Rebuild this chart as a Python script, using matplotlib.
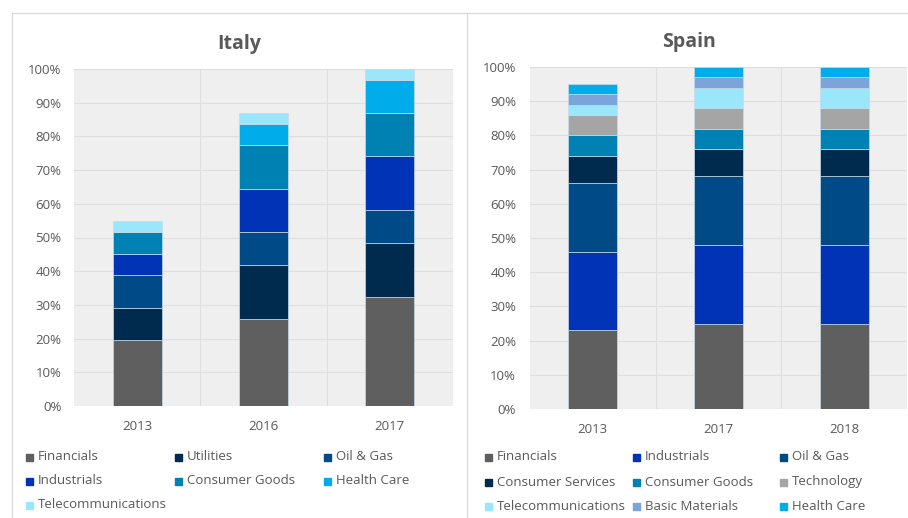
import matplotlib.pyplot as plt
from matplotlib.patches import Rectangle
from matplotlib.lines import Line2D
import numpy as np

plt.rcParams['font.family'] = ['Open Sans', 'DejaVu Sans']

# ---- data (% of total) ----
italy_years = ['2013', '2016', '2017']
italy_sectors = ['Financials', 'Utilities', 'Oil & Gas', 'Industrials',
                 'Consumer Goods', 'Health Care', 'Telecommunications']
italy_values = [
    [19.5, 25.9, 32.4],   # Financials
    [9.7, 16.0, 15.9],    # Utilities
    [9.6, 9.8, 9.8],      # Oil & Gas
    [6.3, 12.8, 16.1],    # Industrials
    [6.5, 12.8, 12.8],    # Consumer Goods
    [0.0, 6.5, 9.7],      # Health Care
    [3.2, 3.1, 3.3],      # Telecommunications
]

spain_years = ['2013', '2017', '2018']
spain_sectors = ['Financials', 'Industrials', 'Oil & Gas', 'Consumer Services',
                 'Consumer Goods', 'Technology', 'Telecommunications',
                 'Basic Materials', 'Health Care']
spain_values = [
    [23, 25, 25],   # Financials
    [23, 23, 23],   # Industrials
    [20, 20, 20],   # Oil & Gas
    [8, 8, 8],      # Consumer Services
    [6, 6, 6],      # Consumer Goods
    [6, 6, 6],      # Technology
    [3, 6, 6],      # Telecommunications
    [3, 3, 3],      # Basic Materials
    [3, 3, 3],      # Health Care
]

# Colors
colors = {
    'Financials': '#5f5f5f',
    'Utilities': '#002b4e',
    'Consumer Services': '#002b4e',
    'Oil & Gas': '#004b87',
    'Industrials': '#0033b5',
    'Consumer Goods': '#0081b3',
    'Health Care': '#00adea',
    'Telecommunications': '#9ae7fb',
    'Technology': '#a5a5a5',
    'Basic Materials': '#7ba4da',
}

TXT = '#595959'
W, H = 908, 518

fig = plt.figure(figsize=(W / 100, H / 100), dpi=100)


def px_axes(left, top, right, bottom):
    return fig.add_axes([left / W, 1 - bottom / H, (right - left) / W, (bottom - top) / H])


def stacked(ax, years, sectors, values, ypad):
    x = np.arange(len(years))
    bottom = np.zeros(len(years))
    for name, vals in zip(sectors, values):
        vals = np.array(vals, dtype=float)
        ax.bar(x, vals, 0.39, bottom=bottom, color=colors[name],
               edgecolor='#c4dcea', linewidth=0.5, zorder=3)
        bottom += vals
    ax.set_xlim(-0.5, len(years) - 0.5)
    ax.set_ylim(0, 100)
    ax.set_facecolor('#efefef')
    ax.set_yticks(np.arange(0, 101, 10))
    ax.set_yticklabels([f'{v}%' for v in range(0, 101, 10)])
    ax.set_xticks(x)
    ax.set_xticklabels(years)
    ax.set_xticks(np.arange(0.5, len(years) - 0.5), minor=True)
    ax.grid(axis='y', color='#dedede', linewidth=0.8, zorder=0)
    ax.grid(axis='x', which='minor', color='#dedede', linewidth=0.8, zorder=0)
    ax.tick_params(which='both', length=0, colors=TXT, labelsize=9.5)
    ax.tick_params(axis='y', pad=9 if ypad is None else ypad)
    ax.tick_params(axis='x', pad=10)
    for s in ax.spines.values():
        s.set_visible(False)


ax1 = px_axes(74, 69, 453, 406)
stacked(ax1, italy_years, italy_sectors, italy_values, 9)
ax2 = px_axes(530, 67, 907, 409)
stacked(ax2, spain_years, spain_sectors, spain_values, 10)

fig.text(239 / W, 1 - 44 / H, 'Italy', ha='center', va='center',
         fontsize=14, fontweight='bold', color=TXT)
fig.text(689 / W, 1 - 42 / H, 'Spain', ha='center', va='center',
         fontsize=14, fontweight='bold', color=TXT)

# panel borders
fig.add_artist(Line2D([12 / W, 1], [1 - 13 / H, 1 - 13 / H], color='#d9d9d9', lw=0.9))
fig.add_artist(Line2D([12 / W, 12 / W], [0, 1 - 13 / H], color='#d9d9d9', lw=0.9))
fig.add_artist(Line2D([467 / W, 467 / W], [0, 1 - 13 / H], color='#d9d9d9', lw=0.9))


def legend(sectors, cols, rows):
    for i, name in enumerate(sectors):
        cx = cols[i % 3]
        cy = rows[i // 3]
        fig.add_artist(Rectangle(((cx - 4) / W, 1 - (cy + 3.5) / H), 7 / W, 7 / H,
                                 transform=fig.transFigure, color=colors[name]))
        fig.text((cx + 8) / W, 1 - cy / H, name, ha='left', va='center',
                 fontsize=9.5, color=TXT)


legend(italy_sectors, [30, 179, 328], [457, 481, 505])
legend(spain_sectors, [489, 637, 784], [457, 482, 506])

fig.savefig('out.png', dpi=100, facecolor='white')
